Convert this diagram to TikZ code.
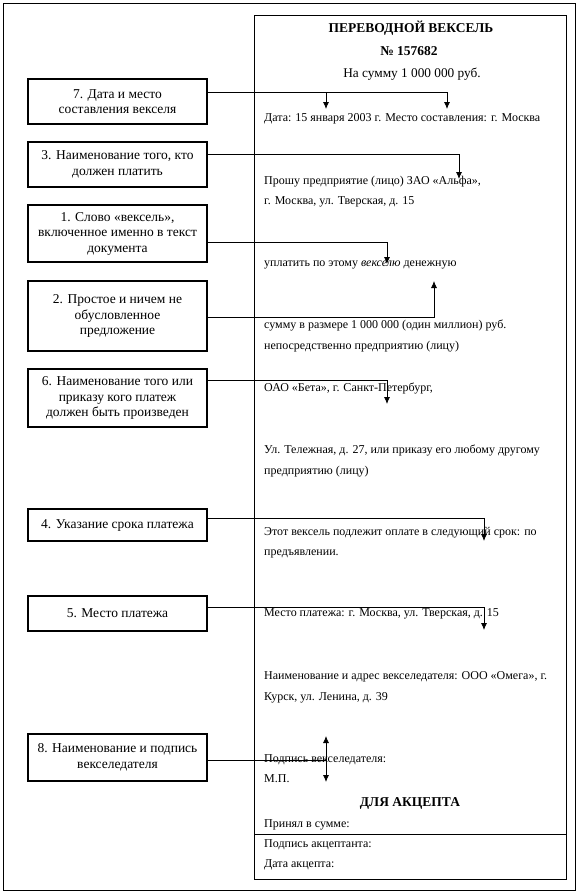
\documentclass[tikz,border=0pt]{standalone}
\usepackage{fontspec}
\setmainfont{Liberation Serif}
\usetikzlibrary{arrows.meta}

\begin{document}
\begin{tikzpicture}[
    x=1pt, y=-1pt,
    note/.style={
        draw,
        line width=2pt,
        minimum width=179pt,
        align=center,
        inner sep=1pt,
        font=\fontsize{13.5}{15.5}\selectfont
    },
    doc/.style={
        anchor=base west,
        inner sep=0pt,
        font=\fontsize{12}{14}\selectfont
    },
    head/.style={
        anchor=base,
        inner sep=0pt,
        font=\fontsize{13.5}{15}\selectfont\bfseries
    },
    frame/.style={
        line width=0.9pt
    },
    link/.style={
        line width=0.8pt,
        -{Latex[length=7pt,width=6pt]}
    }
]

\useasboundingbox (0,0) rectangle (582,894);

% Frames
\draw[frame] (3,3) rectangle (575,890);
\draw[frame] (254,15) rectangle (566,879);
\draw[frame] (254,834) -- (566,834);

% Bill text
\node[head] (title) at (411,32) {ПЕРЕВОДНОЙ ВЕКСЕЛЬ};
\node[head] (num) at (409,55) {№ 157682};
\node[doc, anchor=base, font=\fontsize{13.3}{15}\selectfont] (sum) at (412,77) {На сумму 1 000 000 руб.};
\node[doc] (l1) at (264,121) {Дата: 15 января 2003 г. Место составления: г. Москва};
\node[doc] (l2) at (264,184) {Прошу предприятие (лицо) ЗАО «Альфа»,};
\node[doc] (l3) at (264,204) {г. Москва, ул. Тверская, д. 15};
\node[doc] (l4) at (264,266) {уплатить по этому {\itshape векселю} денежную};
\node[doc] (l5) at (264,328) {сумму в размере 1 000 000 (один миллион) руб.};
\node[doc] (l6) at (264,349) {непосредственно предприятию (лицу)};
\node[doc] (l7) at (264,391) {ОАО «Бета», г. Санкт-Петербург,};
\node[doc] (l8) at (264,453) {Ул. Тележная, д. 27, или приказу его любому другому};
\node[doc] (l9) at (264,474) {предприятию (лицу)};
\node[doc] (l10) at (264,535) {Этот вексель подлежит оплате в следующий срок: по};
\node[doc] (l11) at (264,555) {предъявлении.};
\node[doc] (l12) at (264,616) {Место платежа: г. Москва, ул. Тверская, д. 15};
\node[doc] (l13) at (264,679) {Наименование и адрес векселедателя: ООО «Омега», г.};
\node[doc] (l14) at (264,700) {Курск, ул. Ленина, д. 39};
\node[doc] (l15) at (264,762) {Подпись векселедателя:};
\node[doc] (l16) at (264,782) {М.П.};
\node[head] (accept) at (410,806) {ДЛЯ АКЦЕПТА};
\node[doc] (l17) at (264,827) {Принял в сумме:};
\node[doc] (l18) at (264,847) {Подпись акцептанта:};
\node[doc] (l19) at (264,867) {Дата акцепта:};

% Requisite boxes
\node[note, minimum height=45pt] (date) at (117.5,101.5)
    {7. Дата и место\\составления векселя};
\node[note, minimum height=45pt] (payer) at (117.5,164.5)
    {3. Наименование того, кто\\должен платить};
\node[note, minimum height=57pt] (word) at (117.5,233.5)
    {1. Слово «вексель»,\\включенное именно в текст\\документа};
\node[note, minimum height=70pt] (order) at (117.5,316)
    {2. Простое и ничем не\\обусловленное\\предложение};
\node[note, minimum height=58pt] (payee) at (117.5,398)
    {6. Наименование того или\\приказу кого платеж\\должен быть произведен};
\node[note, minimum height=32pt] (term) at (117.5,525)
    {4. Указание срока платежа};
\node[note, minimum height=35pt] (place) at (117.5,613.5)
    {5. Место платежа};
\node[note, minimum height=47pt] (drawer) at (117.5,757.5)
    {8. Наименование и подпись\\векселедателя};

% Arrow ends
\coordinate (fork) at (326,92);
\coordinate (t1) at (326,109);
\coordinate (t2) at (447,109);
\coordinate (t3) at (459,179);
\coordinate (t4) at (387,264);
\coordinate (t5) at (434,281);
\coordinate (t6) at (387,404);
\coordinate (t7) at (484,541);
\coordinate (t8) at (484,630);
\coordinate (s1) at (326,736);
\coordinate (s2) at (326,782);

% Connectors
\draw[link] ([yshift=9.5pt]date.east) -| (t2);
\draw[link] (fork) -- (t1);
\draw[link] ([yshift=10.5pt]payer.east) -| (t3);
\draw[link] ([yshift=-8.5pt]word.east) -| (t4);
\draw[link] ([yshift=-1pt]order.east) -| (t5);
\draw[link] ([yshift=18pt]payee.east) -| (t6);
\draw[link] ([yshift=7pt]term.east) -| (t7);
\draw[link] ([yshift=6.5pt]place.east) -| (t8);
\draw[line width=0.8pt] ([yshift=-2.5pt]drawer.east) -- (s1 |- 0,760);
\draw[link, {Latex[length=7pt,width=6pt]}-{Latex[length=7pt,width=6pt]}] (s1) -- (s2);

\end{tikzpicture}
\end{document}
